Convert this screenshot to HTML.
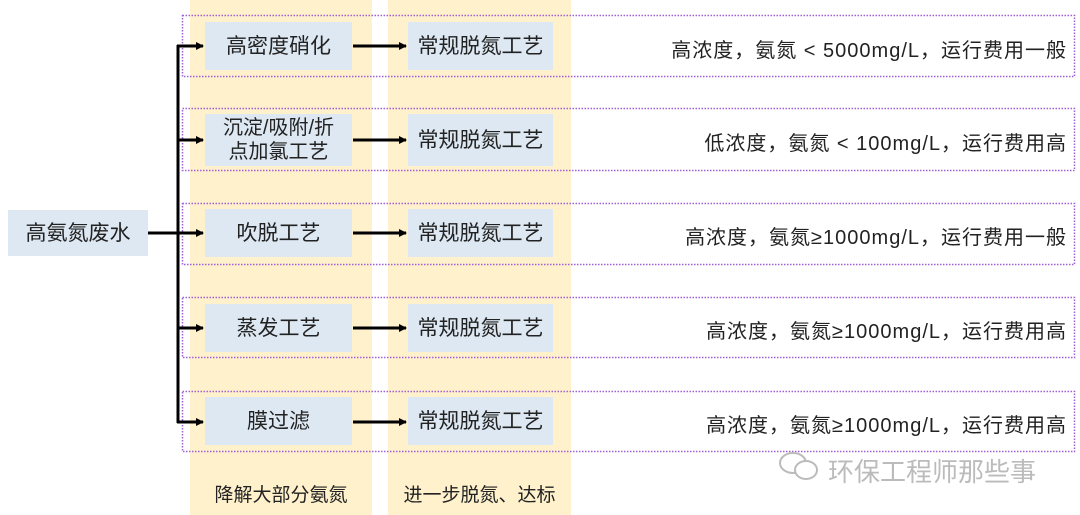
<!DOCTYPE html>
<html><head><meta charset="utf-8"><style>
body{margin:0;width:1080px;height:515px;background:#fff;position:relative;overflow:hidden;font-family:"Liberation Sans","Noto Sans CJK SC",sans-serif;color:#222}
.a{position:absolute}
.col{position:absolute;top:0;height:515px;background:#fef1cc}
.box{position:absolute;background:#dde8f3;display:flex;align-items:center;justify-content:center;text-align:center;font-size:21px;line-height:25px}
.t{position:absolute;right:13px;font-size:20px;letter-spacing:1px;text-align:right;white-space:nowrap}
.lab{position:absolute;top:480px;font-size:19px;text-align:center}
</style></head><body>
<div class="col" style="left:190px;width:182px"></div>
<div class="col" style="left:388px;width:183px"></div>

<svg class="a" style="left:0;top:0" width="1080" height="515">
<g stroke="#a060d8" stroke-width="1.5" stroke-dasharray="1.5 1.5" fill="none">
<rect x="182.5" y="15.5" width="892" height="61"/>
<rect x="182.5" y="108.5" width="892" height="62"/>
<rect x="182.5" y="203.5" width="892" height="61"/>
<rect x="182.5" y="297.5" width="892" height="60"/>
<rect x="182.5" y="391.5" width="892" height="60"/>
</g></svg>

<div class="box" style="left:8px;top:210px;width:140px;height:46px">高氨氮废水</div>

<div class="box" style="left:205px;top:22px;width:147px;height:48px">高密度硝化</div>
<div class="box" style="left:205px;top:114px;width:147px;height:52px;font-size:20px;line-height:24px">沉淀/吸附/折<br>点加氯工艺</div>
<div class="box" style="left:205px;top:209px;width:147px;height:48px">吹脱工艺</div>
<div class="box" style="left:205px;top:304px;width:147px;height:48px">蒸发工艺</div>
<div class="box" style="left:205px;top:397px;width:147px;height:48px">膜过滤</div>

<div class="box" style="left:408px;top:22px;width:145px;height:48px">常规脱氮工艺</div>
<div class="box" style="left:408px;top:114px;width:145px;height:52px">常规脱氮工艺</div>
<div class="box" style="left:408px;top:209px;width:145px;height:48px">常规脱氮工艺</div>
<div class="box" style="left:408px;top:304px;width:145px;height:48px">常规脱氮工艺</div>
<div class="box" style="left:408px;top:397px;width:145px;height:48px">常规脱氮工艺</div>

<svg class="a" style="left:0;top:0" width="1080" height="515">
<defs><marker id="m" markerWidth="8" markerHeight="8" refX="7" refY="4" orient="auto" markerUnits="userSpaceOnUse"><path d="M0,0L8,4L0,8z" fill="#000"/></marker></defs>
<g stroke="#000" stroke-width="3" fill="none">
<line x1="178" y1="45" x2="178" y2="423"/>
<line x1="148" y1="233" x2="178" y2="233"/>
<line x1="177" y1="46" x2="203" y2="46" marker-end="url(#m)"/>
<line x1="177" y1="140" x2="203" y2="140" marker-end="url(#m)"/>
<line x1="177" y1="233" x2="203" y2="233" marker-end="url(#m)"/>
<line x1="177" y1="328" x2="203" y2="328" marker-end="url(#m)"/>
<line x1="177" y1="422" x2="203" y2="422" marker-end="url(#m)"/>
<line x1="353" y1="46" x2="406" y2="46" marker-end="url(#m)"/>
<line x1="353" y1="140" x2="406" y2="140" marker-end="url(#m)"/>
<line x1="353" y1="233" x2="406" y2="233" marker-end="url(#m)"/>
<line x1="353" y1="328" x2="406" y2="328" marker-end="url(#m)"/>
<line x1="353" y1="422" x2="406" y2="422" marker-end="url(#m)"/>
</g>
<g stroke="#bbb" stroke-width="2" fill="#fff">
<ellipse cx="793" cy="463" rx="13" ry="10"/>
<ellipse cx="806" cy="470" rx="11" ry="9"/>
</g></svg>

<div class="t" style="top:34px">高浓度，氨氮 &lt; 5000mg/L，运行费用一般</div>
<div class="t" style="top:127px">低浓度，氨氮 &lt; 100mg/L，运行费用高</div>
<div class="t" style="top:221px">高浓度，氨氮≥1000mg/L，运行费用一般</div>
<div class="t" style="top:315px">高浓度，氨氮≥1000mg/L，运行费用高</div>
<div class="t" style="top:409px">高浓度，氨氮≥1000mg/L，运行费用高</div>

<div class="lab" style="left:190px;width:182px">降解大部分氨氮</div>
<div class="lab" style="left:388px;width:183px">进一步脱氮、达标</div>
<div class="a" style="left:828px;top:452px;font-size:26px;color:#bbb">环保工程师那些事</div>
</body></html>
